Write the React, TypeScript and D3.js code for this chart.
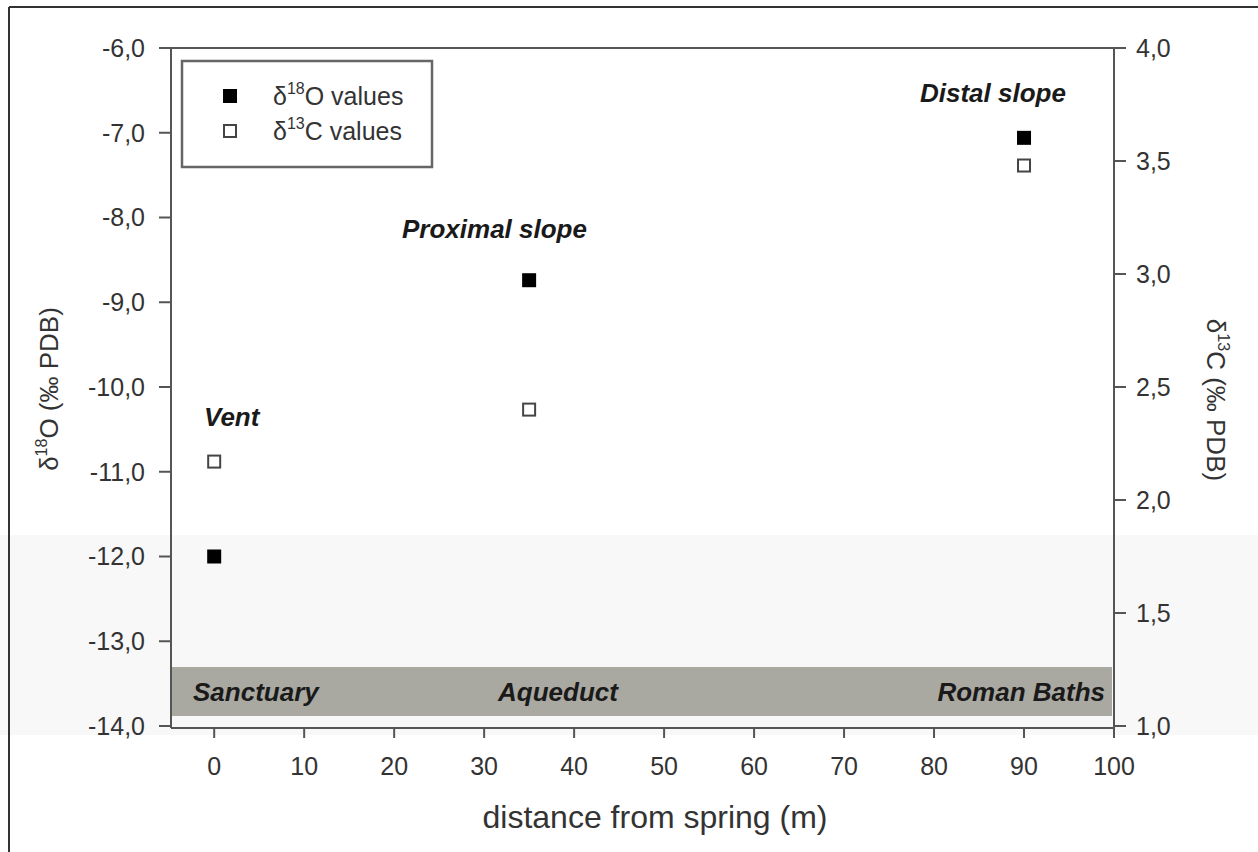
import React from "react";
import * as d3 from "d3";

const distances = [0, 35, 90];
const o18Values = [-12.0, -8.74, -7.06];
const c13Values = [2.17, 2.4, 3.48];
const siteLabels = ["Vent", "Proximal slope", "Distal slope"];
const bandLabels = ["Sanctuary", "Aqueduct", "Roman Baths"];
const xTicks = [0, 10, 20, 30, 40, 50, 60, 70, 80, 90, 100];
const leftTicks = [-14, -13, -12, -11, -10, -9, -8, -7, -6];
const rightTicks = [1.0, 1.5, 2.0, 2.5, 3.0, 3.5, 4.0];

const W = 1258;
const H = 852;
const L = 171, R = 1114, T = 48, B = 726;

export default function App() {
  const x = d3.scaleLinear().domain([-4.8, 100]).range([L, R]);
  const yL = d3.scaleLinear().domain([-14, -6]).range([B, T]);
  const yR = d3.scaleLinear().domain([1, 4]).range([B, T]);
  const fmt = (v: number) => v.toFixed(1).replace(".", ",");
  const font = "Arial, 'Liberation Sans', sans-serif";
  const axisCol = "#555";
  const txtCol = "#333";
  const ms = 14;
  const siteLabelPos = [
    { x: 204, y: 426 },
    { x: 402, y: 238 },
    { x: 920, y: 102 },
  ];
  return (
    <svg width={W} height={H} style={{ position: "absolute", left: 0, top: 0, background: "#fff" }} fontFamily={font}>
      <rect x={0} y={535} width={W} height={200} fill="#f8f8f8" />
      <line x1={9} y1={7} x2={W} y2={7} stroke="#333" strokeWidth={2} />
      <line x1={9} y1={7} x2={9} y2={H} stroke="#333" strokeWidth={2} />
      {/* band */}
      <rect x={L} y={667} width={x(100) - 2 - L} height={49} fill="#a9a9a1" />
      <text x={193} y={701} fontSize={26} fontWeight="bold" fontStyle="italic" fill="#1a1a1a">{bandLabels[0]}</text>
      <text x={498} y={701} fontSize={26} fontWeight="bold" fontStyle="italic" fill="#1a1a1a">{bandLabels[1]}</text>
      <text x={1105} y={701} fontSize={26} fontWeight="bold" fontStyle="italic" fill="#1a1a1a" textAnchor="end">{bandLabels[2]}</text>
      {/* frame */}
      <line x1={L} y1={T} x2={R} y2={T} stroke={axisCol} strokeWidth={2} />
      <line x1={L} y1={T} x2={L} y2={B + 2} stroke={axisCol} strokeWidth={2} />
      <line x1={R} y1={T} x2={R} y2={B + 2} stroke={axisCol} strokeWidth={2} />
      <line x1={L} y1={B + 2} x2={R} y2={B + 2} stroke={axisCol} strokeWidth={2} />
      {/* left axis */}
      {leftTicks.map((v) => (
        <g key={"l" + v}>
          <line x1={L - 12} x2={L} y1={yL(v)} y2={yL(v)} stroke={axisCol} strokeWidth={2} />
          <text x={145} y={yL(v)} dy="0.35em" textAnchor="end" fontSize={25} fill={txtCol}>{fmt(v)}</text>
        </g>
      ))}
      {/* right axis */}
      {rightTicks.map((v) => (
        <g key={"r" + v}>
          <line x1={R} x2={R + 12} y1={yR(v)} y2={yR(v)} stroke={axisCol} strokeWidth={2} />
          <text x={1136} y={yR(v)} dy="0.35em" textAnchor="start" fontSize={25} fill={txtCol}>{fmt(v)}</text>
        </g>
      ))}
      {/* bottom axis */}
      {xTicks.map((v) => (
        <g key={"x" + v}>
          <line x1={x(v)} x2={x(v)} y1={B + 2} y2={B + 12} stroke={axisCol} strokeWidth={2} />
          <text x={x(v)} y={775} textAnchor="middle" fontSize={25} fill={txtCol}>{v}</text>
        </g>
      ))}
      <text x={655} y={828} textAnchor="middle" fontSize={32} fill={txtCol}>distance from spring (m)</text>
      <text transform={`translate(58,389) rotate(-90)`} textAnchor="middle" fontSize={26} fill={txtCol}>
        δ<tspan fontSize={16} dy={-11}>18</tspan><tspan dy={11}>O (‰ PDB)</tspan>
      </text>
      <text transform={`translate(1207,400) rotate(90)`} textAnchor="middle" fontSize={26} fill={txtCol}>
        δ<tspan fontSize={16} dy={-11}>13</tspan><tspan dy={11}>C (‰ PDB)</tspan>
      </text>
      {/* site labels */}
      {siteLabels.map((s, i) => (
        <text key={s} x={siteLabelPos[i].x} y={siteLabelPos[i].y}
          fontSize={26} fontWeight="bold" fontStyle="italic" fill="#1a1a1a">{s}</text>
      ))}
      {/* points */}
      {distances.map((d, i) => (
        <rect key={"c" + i} x={x(d) - ms / 2 + 1} y={yR(c13Values[i]) - ms / 2 + 1} width={ms - 2} height={ms - 2}
          fill="#fff" stroke="#444" strokeWidth={2} />
      ))}
      {distances.map((d, i) => (
        <rect key={"o" + i} x={x(d) - ms / 2} y={yL(o18Values[i]) - ms / 2} width={ms} height={ms} fill="#000" />
      ))}
      {/* legend */}
      <rect x={182} y={61} width={250} height={106} fill="#fff" stroke="#666" strokeWidth={2.5} />
      <rect x={223} y={89} width={14} height={14} fill="#000" />
      <rect x={224} y={125} width={12} height={12} fill="#fff" stroke="#444" strokeWidth={2} />
      <text x={273} y={105} fontSize={25} fill={txtCol}>
        δ<tspan fontSize={16} dy={-11}>18</tspan><tspan dy={11}>O values</tspan>
      </text>
      <text x={273} y={140} fontSize={25} fill={txtCol}>
        δ<tspan fontSize={16} dy={-11}>13</tspan><tspan dy={11}>C values</tspan>
      </text>
    </svg>
  );
}
